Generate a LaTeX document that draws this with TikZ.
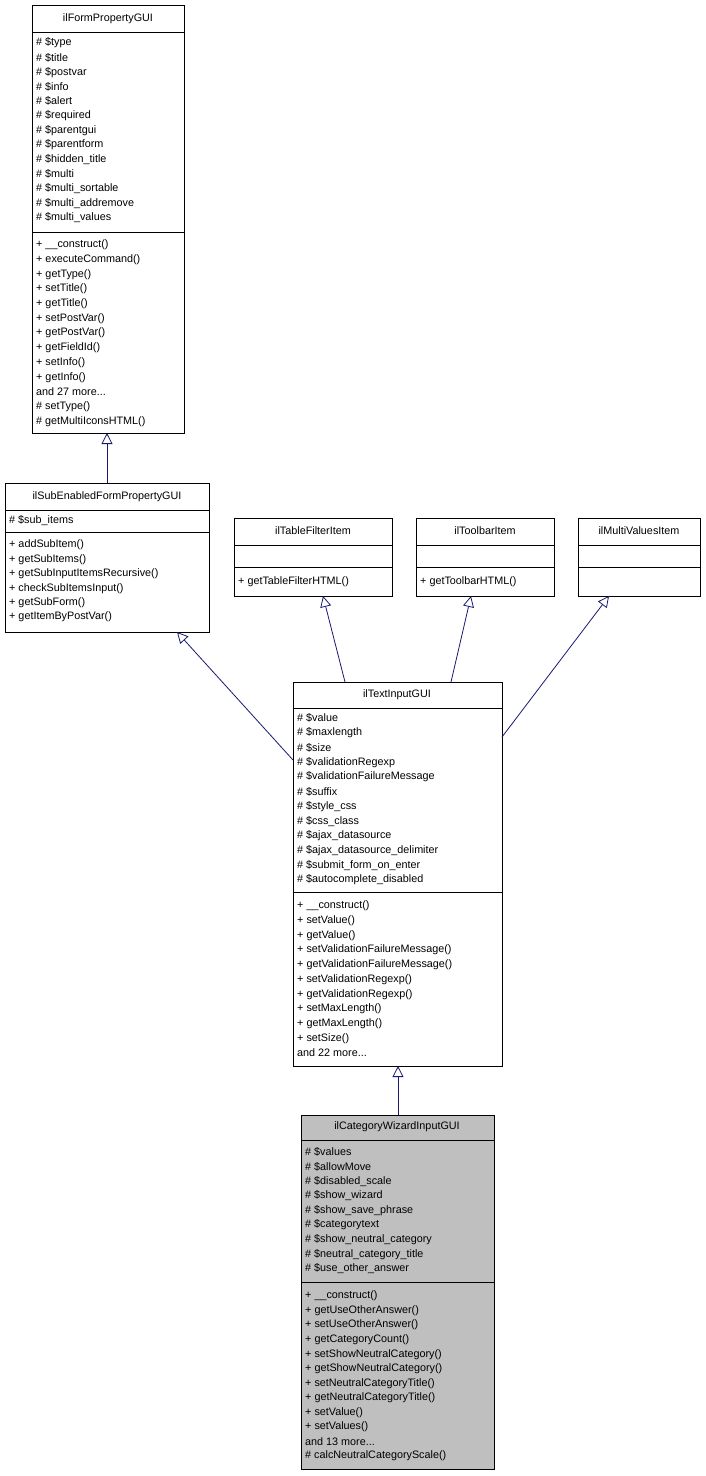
\documentclass[tikz,border=0pt]{standalone}
\usepackage{fontspec}
\setmainfont{Liberation Sans}
\usetikzlibrary{arrows.meta}
\newcommand\mydots{...}
\begin{document}
\begin{tikzpicture}[x=1pt,y=-1pt,
 box/.style={draw=black,line width=0.8pt,anchor=north west,inner sep=0pt},
 txt/.style={anchor=west,inner sep=0pt,font=\fontsize{10.8}{12}\selectfont},
 ttl/.style={anchor=center,inner sep=0pt,font=\fontsize{10.8}{12}\selectfont},
 inh/.style={draw={rgb,255:red,25;green,25;blue,112},line width=0.8pt,-{Triangle[open,length=11pt,width=11pt]}}]
\useasboundingbox (0,0) rectangle (706,1476);
% ilFormPropertyGUI
\node[box,minimum width=152pt,minimum height=428pt] (fp) at (32,5) {};
\draw (32,32)--(184,32) (32,232)--(184,232);
\node[ttl] (fpt) at (108,19) {ilFormPropertyGUI};
\foreach \t [count=\i] in {{\# \$type},{\# \$title},{\# \$postvar},{\# \$info},{\# \$alert},{\# \$required},{\# \$parentgui},{\# \$parentform},{\# \$hidden\_title},{\# \$multi},{\# \$multi\_sortable},{\# \$multi\_addremove},{\# \$multi\_values}}
 \node[txt] (fpa\i) at (36,{43+(\i-1)*14.58}) {\t};
\foreach \t [count=\i] in {{+ \_\_construct()},{+ executeCommand()},{+ getType()},{+ setTitle()},{+ getTitle()},{+ setPostVar()},{+ getPostVar()},{+ getFieldId()},{+ setInfo()},{+ getInfo()},{and 27 more\mydots},{\# setType()},{\# getMultiIconsHTML()}}
 \node[txt] (fpm\i) at (36,{245+(\i-1)*14.7}) {\t};
% ilSubEnabledFormPropertyGUI
\node[box,minimum width=204pt,minimum height=149pt] (se) at (5,483) {};
\draw (5,510)--(209,510) (5,532)--(209,532);
\node[ttl] (set) at (107,497) {ilSubEnabledFormPropertyGUI};
\node[txt] (sea1) at (9,521) {\# \$sub\_items};
\foreach \t [count=\i] in {{+ addSubItem()},{+ getSubItems()},{+ getSubInputItemsRecursive()},{+ checkSubItemsInput()},{+ getSubForm()},{+ getItemByPostVar()}}
 \node[txt] (sem\i) at (9,{545+(\i-1)*14.4}) {\t};
% ilTableFilterItem
\node[box,minimum width=158pt,minimum height=78pt] (tf) at (234,518) {};
\draw (234,545)--(392,545) (234,567)--(392,567);
\node[ttl] (tft) at (313,531) {ilTableFilterItem};
\node[txt] (tfm1) at (238,582) {+ getTableFilterHTML()};
% ilToolbarItem
\node[box,minimum width=138pt,minimum height=78pt] (tb) at (416,518) {};
\draw (416,545)--(554,545) (416,567)--(554,567);
\node[ttl] (tbt) at (485,531) {ilToolbarItem};
\node[txt] (tbm1) at (420,582) {+ getToolbarHTML()};
% ilMultiValuesItem
\node[box,minimum width=122pt,minimum height=78pt] (mv) at (578,518) {};
\draw (578,545)--(700,545) (578,567)--(700,567);
\node[ttl] (mvt) at (639,531) {ilMultiValuesItem};
% ilTextInputGUI
\node[box,minimum width=209pt,minimum height=384pt] (ti) at (293,682) {};
\draw (293,708)--(502,708) (293,892)--(502,892);
\node[ttl] (tit) at (397,695) {ilTextInputGUI};
\foreach \t [count=\i] in {{\# \$value},{\# \$maxlength},{\# \$size},{\# \$validationRegexp},{\# \$validationFailureMessage},{\# \$suffix},{\# \$style\_css},{\# \$css\_class},{\# \$ajax\_datasource},{\# \$ajax\_datasource\_delimiter},{\# \$submit\_form\_on\_enter},{\# \$autocomplete\_disabled}}
 \node[txt] (tia\i) at (297,{718+(\i-1)*14.73}) {\t};
\foreach \t [count=\i] in {{+ \_\_construct()},{+ setValue()},{+ getValue()},{+ setValidationFailureMessage()},{+ getValidationFailureMessage()},{+ setValidationRegexp()},{+ getValidationRegexp()},{+ setMaxLength()},{+ getMaxLength()},{+ setSize()},{and 22 more\mydots}}
 \node[txt] (tim\i) at (297,{906+(\i-1)*14.7}) {\t};
% ilCategoryWizardInputGUI
\node[box,fill={rgb,255:red,191;green,191;blue,191},minimum width=193pt,minimum height=354pt] (cw) at (301,1115) {};
\draw (301,1140)--(494,1140) (301,1282)--(494,1282);
\node[ttl] (cwt) at (397,1127) {ilCategoryWizardInputGUI};
\foreach \t [count=\i] in {{\# \$values},{\# \$allowMove},{\# \$disabled\_scale},{\# \$show\_wizard},{\# \$show\_save\_phrase},{\# \$categorytext},{\# \$show\_neutral\_category},{\# \$neutral\_category\_title},{\# \$use\_other\_answer}}
 \node[txt] (cwa\i) at (305,{1152+(\i-1)*14.6}) {\t};
\foreach \t [count=\i] in {{+ \_\_construct()},{+ getUseOtherAnswer()},{+ setUseOtherAnswer()},{+ getCategoryCount()},{+ setShowNeutralCategory()},{+ getShowNeutralCategory()},{+ setNeutralCategoryTitle()},{+ getNeutralCategoryTitle()},{+ setValue()},{+ setValues()},{and 13 more\mydots},{\# calcNeutralCategoryScale()}}
 \node[txt] (cwm\i) at (305,{1296+(\i-1)*14.55}) {\t};
% connectors
\coordinate (c1) at (107,483); \coordinate (c1e) at (107,433);
\draw[inh] (c1) -- (c1e);
\coordinate (c2) at (293,760); \coordinate (c2e) at (177,632);
\draw[inh] (c2) -- (c2e);
\coordinate (c3) at (345,682); \coordinate (c3e) at (323,596);
\draw[inh] (c3) -- (c3e);
\coordinate (c4) at (451,682); \coordinate (c4e) at (471,596);
\draw[inh] (c4) -- (c4e);
\coordinate (c5) at (502,737); \coordinate (c5e) at (609,596);
\draw[inh] (c5) -- (c5e);
\coordinate (c6) at (398,1115); \coordinate (c6e) at (398,1066);
\draw[inh] (c6) -- (c6e);
\end{tikzpicture}
\end{document}
